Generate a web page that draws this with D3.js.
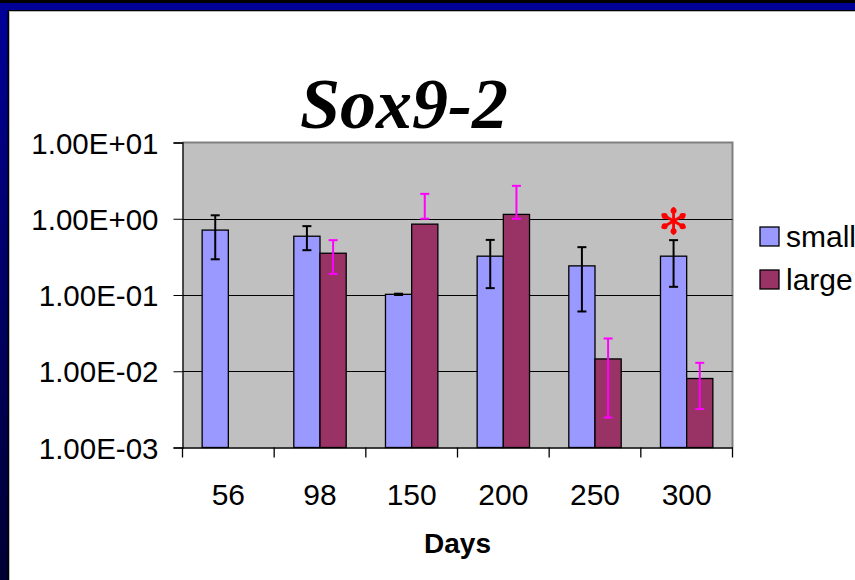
<!DOCTYPE html>
<html>
<head>
<meta charset="utf-8">
<script src="https://cdn.jsdelivr.net/npm/d3@7"></script>
<style>
  html, body { margin: 0; padding: 0; background: #fff; }
  svg { display: block; }
</style>
</head>
<body>
<div id="chart"></div>
<script>
// données
const days = ["56", "98", "150", "200", "250", "300"];
const small = [0.71, 0.59, 0.102, 0.323, 0.241, 0.323];
const smallHi = [1.11, 0.8, 0.104, 0.528, 0.424, 0.524];
const smallLo = [0.294, 0.387, 0.1, 0.123, 0.0608, 0.128];
const large = [null, 0.353, 0.85, 1.14, 0.0145, 0.00803];
const largeHi = [null, 0.524, 2.12, 2.7, 0.0269, 0.0129];
const largeLo = [null, 0.189, 1.0, 1.0, 0.00247, 0.0032];
const yTicks = [1e-3, 1e-2, 1e-1, 1e0, 1e1];
const yTickLabels = ["1.00E-03", "1.00E-02", "1.00E-01", "1.00E+00", "1.00E+01"];
const seriesNames = ["small", "large"];
const starDay = "300";

const width = 855,
  height = 580;
const plot = { left: 182.5, right: 732.5, top: 142.5, bottom: 447.5 };

const svg = d3
  .select("#chart")
  .append("svg")
  .attr("width", width)
  .attr("height", height);

// ----------------- CADRE DE LA DIAPO ----------------- //
const defs = svg.append("defs");
const grad = defs
  .append("linearGradient")
  .attr("id", "leftBar")
  .attr("x1", 0)
  .attr("y1", 0)
  .attr("x2", 0)
  .attr("y2", 1);
grad.append("stop").attr("offset", "0%").attr("stop-color", "#000099");
grad.append("stop").attr("offset", "100%").attr("stop-color", "#000033");

svg.append("rect").attr("width", width).attr("height", height).attr("fill", "url(#leftBar)");
svg.append("rect").attr("x", 0).attr("y", 0).attr("width", width).attr("height", 3).attr("fill", "#000");
svg.append("rect").attr("x", 0).attr("y", 3).attr("width", width).attr("height", 7).attr("fill", "#000099");
svg
  .append("rect")
  .attr("x", 7.5)
  .attr("y", 10)
  .attr("width", width)
  .attr("height", height)
  .attr("fill", "#000");
svg
  .append("rect")
  .attr("x", 9)
  .attr("y", 11)
  .attr("width", width)
  .attr("height", height)
  .attr("fill", "#bbb");
svg
  .append("rect")
  .attr("x", 10)
  .attr("y", 12)
  .attr("width", width)
  .attr("height", height)
  .attr("fill", "#fff");

// ----------------- ECHELLES ----------------- //
const x = d3.scaleBand().domain(days).range([plot.left, plot.right]).padding(0);
const y = d3.scaleLog().domain([1e-3, 1e1]).range([plot.bottom, plot.top]);
const bw = x.bandwidth() / 3.5;

// fond gris de la zone de tracé
svg
  .append("rect")
  .attr("x", plot.left)
  .attr("y", plot.top)
  .attr("width", plot.right - plot.left)
  .attr("height", plot.bottom - plot.top)
  .attr("fill", "#c0c0c0");
// bord gris haut et droite
svg
  .append("path")
  .attr("d", `M${plot.left},${plot.top}H${plot.right}V${plot.bottom}`)
  .attr("fill", "none")
  .attr("stroke", "#808080")
  .attr("stroke-width", 2);

// lignes de grille
svg
  .selectAll(".grid")
  .data(yTicks.slice(1, -1))
  .enter()
  .append("line")
  .attr("x1", plot.left)
  .attr("x2", plot.right)
  .attr("y1", (d) => Math.round(y(d)) + 0.5)
  .attr("y2", (d) => Math.round(y(d)) + 0.5)
  .attr("stroke", "#000")
  .attr("stroke-width", 1);

// ----------------- BARRES ----------------- //
const smallData = days.map((d, i) => ({ day: d, v: small[i], hi: smallHi[i], lo: smallLo[i] }));
const largeData = days
  .map((d, i) => ({ day: d, v: large[i], hi: largeHi[i], lo: largeLo[i] }))
  .filter((d) => d.v != null);

svg
  .selectAll(".small")
  .data(smallData)
  .enter()
  .append("rect")
  .attr("x", (d) => x(d.day) + x.bandwidth() / 2 - bw)
  .attr("y", (d) => y(d.v))
  .attr("width", bw)
  .attr("height", (d) => plot.bottom - y(d.v))
  .attr("fill", "#9999ff")
  .attr("stroke", "#000")
  .attr("stroke-width", 1.3);

svg
  .selectAll(".large")
  .data(largeData)
  .enter()
  .append("rect")
  .attr("x", (d) => x(d.day) + x.bandwidth() / 2)
  .attr("y", (d) => y(d.v))
  .attr("width", bw)
  .attr("height", (d) => plot.bottom - y(d.v))
  .attr("fill", "#993366")
  .attr("stroke", "#000")
  .attr("stroke-width", 1.3);

// ----------------- BARRES D'ERREUR ----------------- //
function errorBars(data, offset, color) {
  const g = svg.append("g").attr("stroke", color).attr("stroke-width", 2);
  data.forEach((d) => {
    const cx = x(d.day) + x.bandwidth() / 2 + offset;
    g.append("line").attr("x1", cx).attr("x2", cx).attr("y1", y(d.hi)).attr("y2", y(d.lo));
    g.append("line").attr("x1", cx - 4.5).attr("x2", cx + 4.5).attr("y1", y(d.hi)).attr("y2", y(d.hi));
    g.append("line").attr("x1", cx - 4.5).attr("x2", cx + 4.5).attr("y1", y(d.lo)).attr("y2", y(d.lo));
  });
}
errorBars(smallData, -bw / 2, "#000");
errorBars(largeData, bw / 2, "#ff00ff");

// ----------------- AXES ----------------- //
svg
  .append("g")
  .attr("transform", `translate(${plot.left},0)`)
  .call(d3.axisLeft(y).tickValues(yTicks).tickSize(9).tickFormat((d, i) => yTickLabels[i]))
  .call((g) => g.select(".domain").attr("stroke", "#000").attr("stroke-width", 1.3))
  .call((g) => g.selectAll(".tick line").attr("stroke", "#000"))
  .call((g) =>
    g
      .selectAll(".tick text")
      .attr("x", -24)
      .attr("dy", "0.36em")
      .attr("fill", "#000")
      .style("font-family", "Liberation Sans, Arial, sans-serif")
      .style("font-size", "29.5px")
  );

const xAxis = svg
  .append("g")
  .attr("transform", `translate(0,${plot.bottom})`)
  .call(d3.axisBottom(x).tickSize(0).tickFormat((d) => d));
xAxis.select(".domain").attr("stroke", "#000").attr("stroke-width", 1.3);
xAxis
  .selectAll(".tick text")
  .attr("y", 57.5)
  .attr("dy", 0)
  .attr("fill", "#000")
  .style("font-family", "Liberation Sans, Arial, sans-serif")
  .style("font-size", "30px");
// graduations entre les catégories
svg
  .selectAll(".xtick")
  .data(days.concat(["end"]))
  .enter()
  .append("line")
  .attr("x1", (d, i) => (i < days.length ? x(d) : plot.right))
  .attr("x2", (d, i) => (i < days.length ? x(d) : plot.right))
  .attr("y1", plot.bottom)
  .attr("y2", plot.bottom + 10)
  .attr("stroke", "#000")
  .attr("stroke-width", 1.3);

// titre de l'axe
svg
  .append("text")
  .attr("x", (plot.left + plot.right) / 2)
  .attr("y", 553)
  .attr("text-anchor", "middle")
  .style("font-family", "Liberation Sans, Arial, sans-serif")
  .style("font-size", "28px")
  .style("font-weight", "bold")
  .text("Days");

// titre
svg
  .append("text")
  .attr("x", 404)
  .attr("y", 128)
  .attr("text-anchor", "middle")
  .style("font-family", "Liberation Serif, Times New Roman, serif")
  .style("font-size", "72px")
  .style("font-weight", "bold")
  .style("font-style", "italic")
  .text("Sox9-2");

// astérisque rouge au-dessus de 300
const sx = x(starDay) + x.bandwidth() / 2 - bw / 2,
  sy = 221;
const star = svg.append("g").attr("transform", `translate(${sx},${sy})`);
[90, 30, 150].forEach((a) => {
  const r = 12.5,
    dx = r * Math.cos((a * Math.PI) / 180),
    dy = r * Math.sin((a * Math.PI) / 180);
  star
    .append("line")
    .attr("x1", -dx)
    .attr("y1", -dy)
    .attr("x2", dx)
    .attr("y2", dy)
    .attr("stroke", "#ff0000")
    .attr("stroke-width", 2.8)
    .attr("stroke-linecap", "round");
  star.append("circle").attr("cx", dx * 0.82).attr("cy", dy * 0.82).attr("r", 3).attr("fill", "#ff0000");
  star.append("circle").attr("cx", -dx * 0.82).attr("cy", -dy * 0.82).attr("r", 3).attr("fill", "#ff0000");
});

// ----------------- LEGENDE ----------------- //
const legendColors = ["#9999ff", "#993366"];
const legend = svg
  .selectAll(".legend")
  .data(seriesNames)
  .enter()
  .append("g")
  .attr("transform", (d, i) => `translate(760,${227 + i * 43})`);
legend
  .append("rect")
  .attr("width", 19)
  .attr("height", 19)
  .attr("fill", (d, i) => legendColors[i])
  .attr("stroke", "#000")
  .attr("stroke-width", 1.3);
legend
  .append("text")
  .attr("x", 26)
  .attr("y", 20)
  .style("font-family", "Liberation Sans, Arial, sans-serif")
  .style("font-size", "30px")
  .text((d) => d);
</script>
</body>
</html>
